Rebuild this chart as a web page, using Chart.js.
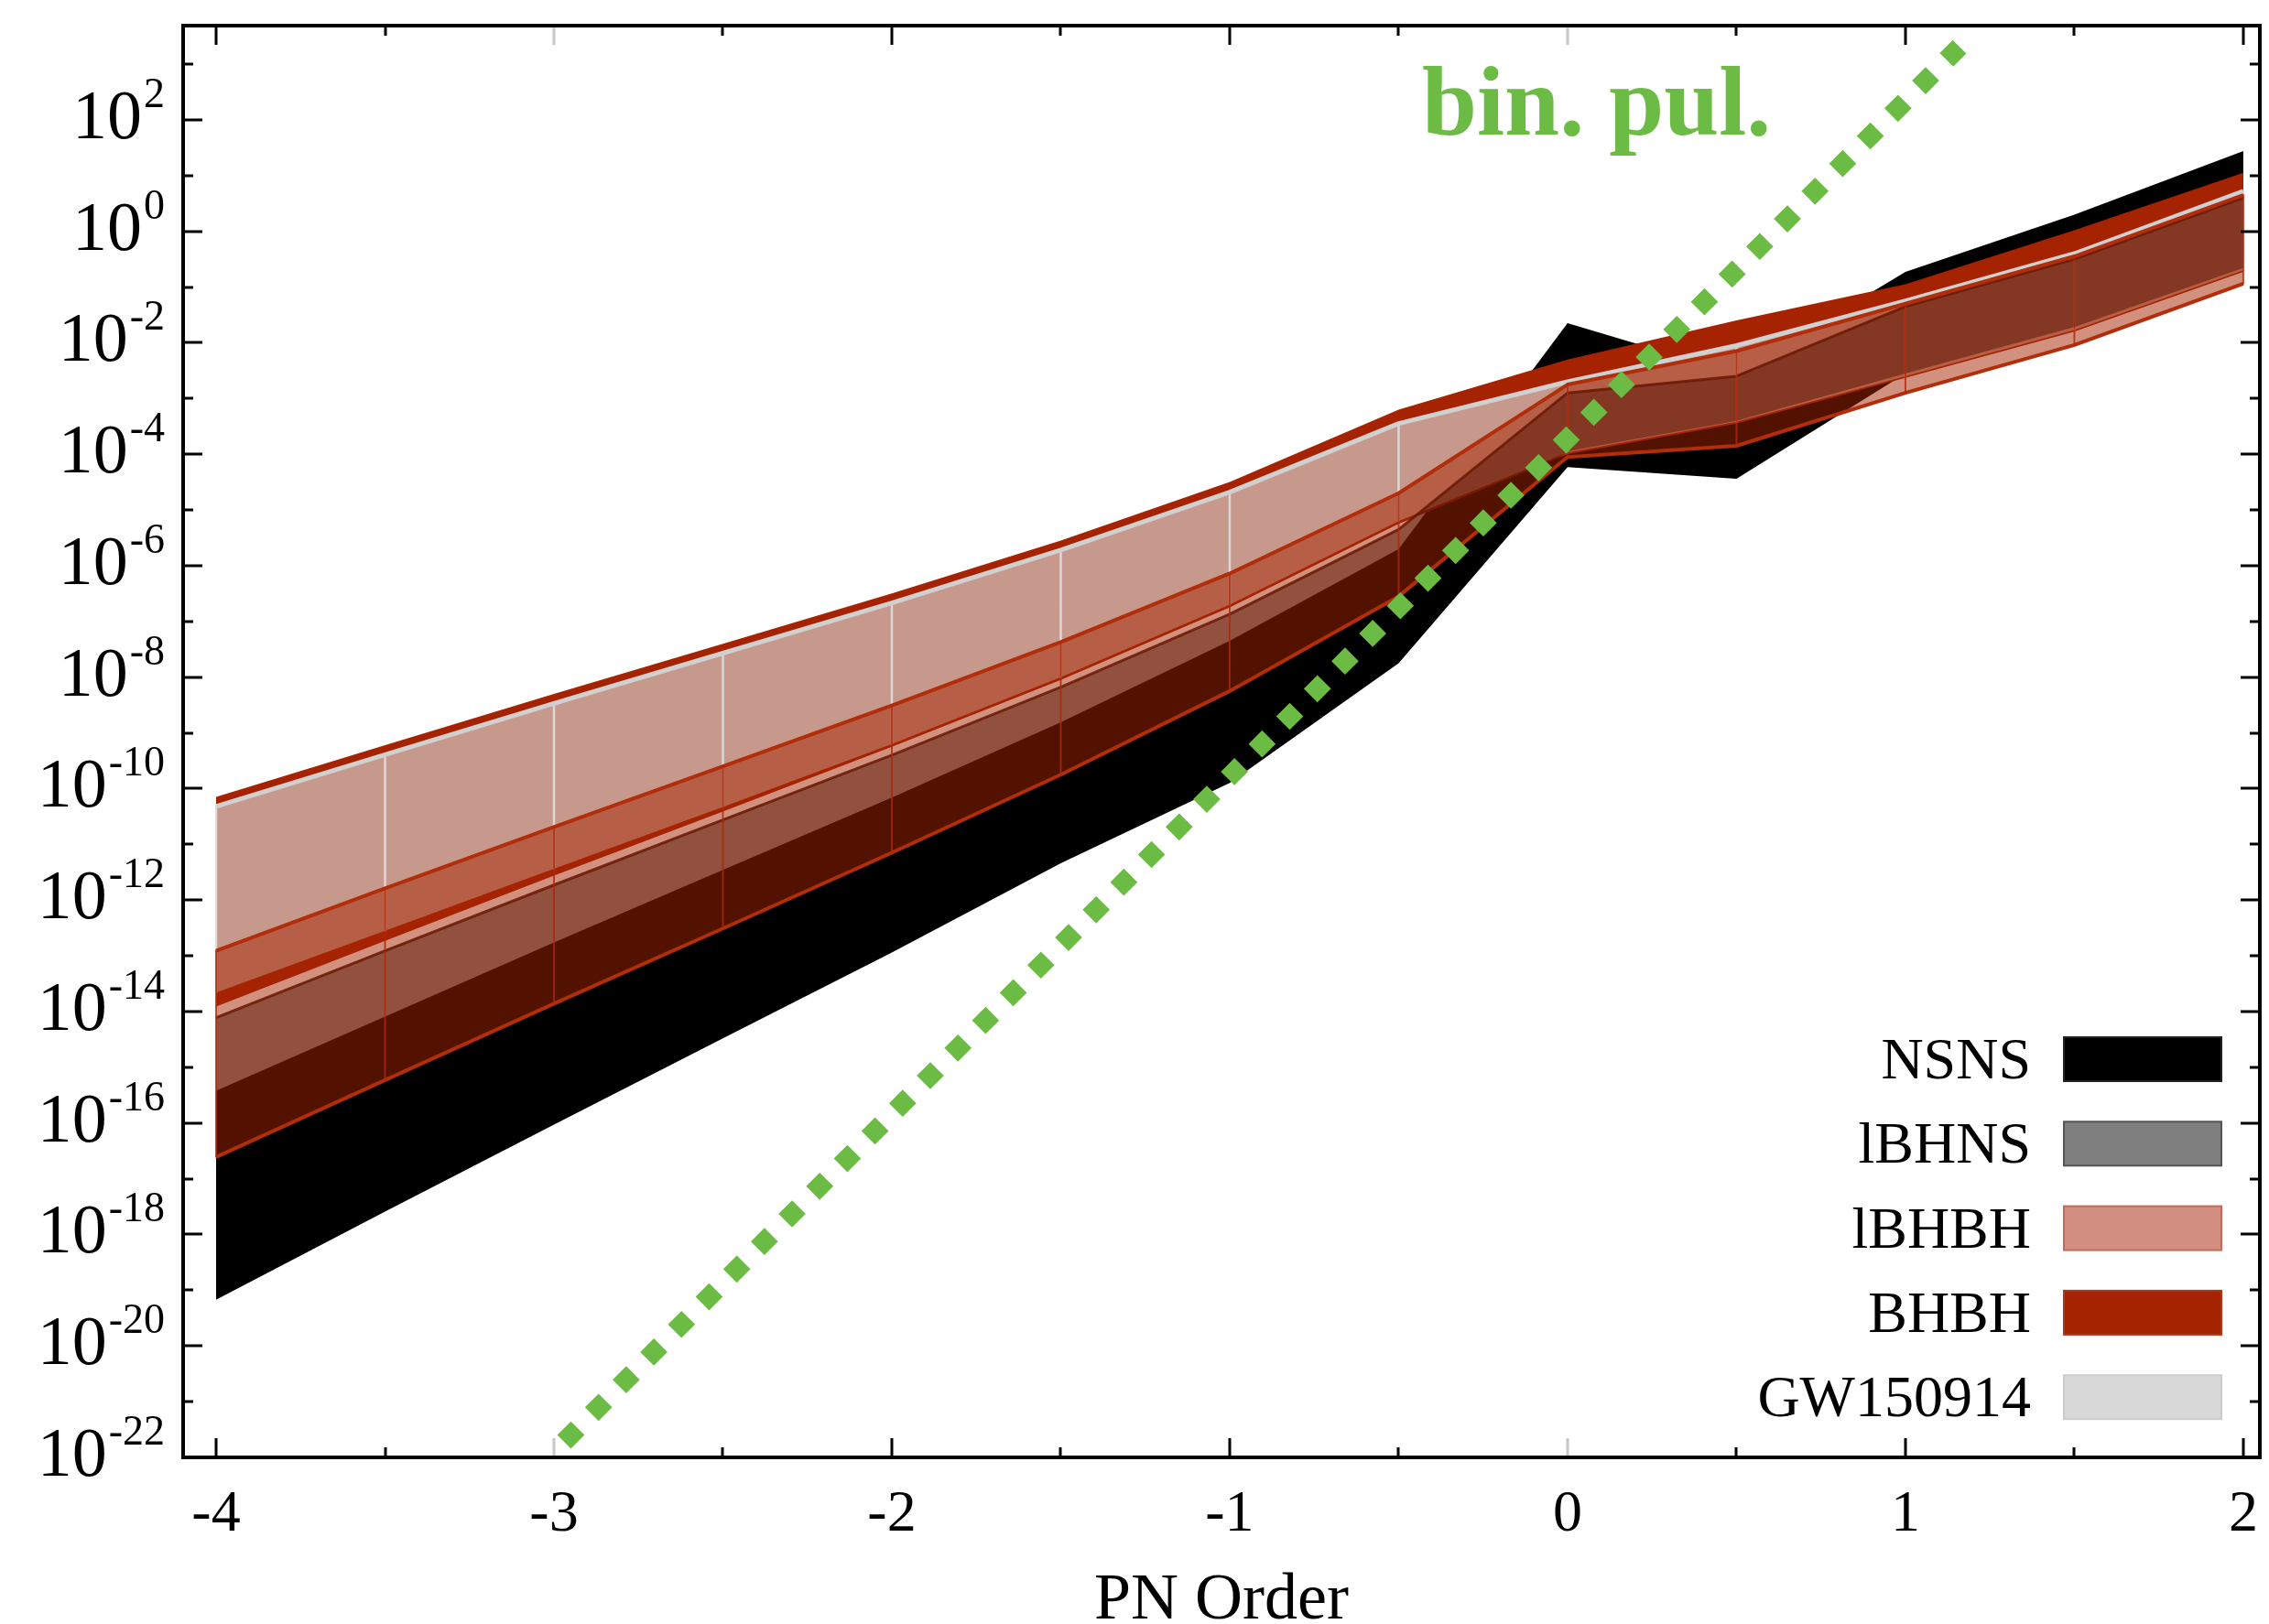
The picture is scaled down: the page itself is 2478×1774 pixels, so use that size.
<!DOCTYPE html>
<html><head><meta charset="utf-8">
<script src="https://cdn.jsdelivr.net/npm/chart.js@4.4.1/dist/chart.umd.min.js"></script>
<style>html,body{margin:0;padding:0;background:#fff;}#wrap{width:2478px;height:1774px;position:relative;}</style>
</head><body><div id="wrap"><canvas id="c" width="2478" height="1774"></canvas></div>
<script>
// ---------- data (PN order and log10 of the bounds) ----------
const pnOrders = [-4,-3.5,-3,-2.5,-2,-1.5,-1,-0.5,0,0.5,1,1.5,2];
const bhbhUpperLog   = [-10.15,-9.22,-8.30,-7.40,-6.50,-5.55,-4.50,-3.20,-2.30,-1.60,-0.95,0.02,1.05];
const bhbhLowerLog   = [-13.91,-12.73,-11.56,-10.41,-9.25,-8.05,-6.75,-5.25,-4.00,-3.45,-2.63,-1.80,-0.73];
const gwUpperLog     = [-10.32,-9.39,-8.47,-7.57,-6.67,-5.72,-4.68,-3.45,-2.70,-2.05,-1.25,-0.40,0.72];
const gwLowerLog     = [-13.66,-12.55,-11.44,-10.33,-9.20,-8.00,-6.70,-5.20,-3.97,-3.42,-2.60,-1.77,-0.70];
const lbhbhUpperLog  = [-12.91,-11.79,-10.69,-9.60,-8.51,-7.37,-6.14,-4.70,-2.75,-2.15,-1.30,-0.45,0.65];
const lbhbhLowerLog  = [-16.61,-15.23,-13.86,-12.51,-11.15,-9.75,-8.25,-6.55,-4.05,-3.85,-2.90,-2.04,-0.94];
const lbhnsUpperLog  = [-14.11,-12.91,-11.73,-10.56,-9.40,-8.18,-6.87,-5.35,-2.90,-2.60,-1.35,-0.50,0.60];
const lbhnsLowerLog  = [-15.90,-14.60,-13.30,-12.00,-10.70,-9.30,-7.90,-6.30,-3.95,-3.40,-2.55,-1.72,-0.66];
const nsnsUpperLog   = [-15.42,-14.09,-12.76,-11.46,-10.16,-8.81,-7.35,-5.70,-1.65,-2.55,-0.73,0.30,1.44];
const nsnsLowerLog   = [-19.17,-17.59,-16.03,-14.48,-12.94,-11.34,-9.90,-7.75,-4.23,-4.44,-2.55,-1.70,-0.65];
const binPulX   = [-2.97, 1.16];
const binPulLog = [-21.72, 3.31];
const xTickValues = [-4,-3,-2,-1,0,1,2];
const xTickLabels = ['-4','-3','-2','-1','0','1','2'];
const yTickExponents = [2,0,-2,-4,-6,-8,-10,-12,-14,-16,-18,-20,-22];
const legendLabels = ['NSNS','lBHNS','lBHBH','BHBH','GW150914'];
const legendFill   = ['#000000','#7f7f7f','#d28f81','#a52300','#d8d8d8'];
const legendEdge   = ['#222222','#555555','#c46a58','#b0381a','#cccccc'];

// ---------- helpers ----------
const P = v => Math.pow(10, v);
const pts = (xs, logs) => xs.map((x, i) => ({x, y: P(logs[i])}));
const vpts = (xs, up, lo) => { const o = []; xs.forEach((x, i) => { o.push({x, y: P(up[i])}, {x, y: P(lo[i])}, {x, y: null}); }); return o; };
const datasets = [];
function add(data, opts) {
  datasets.push(Object.assign({data, pointRadius: 0, pointHoverRadius: 0, borderWidth: 1, borderColor: 'rgba(0,0,0,0)', fill: false, tension: 0, spanGaps: false}, opts));
  return datasets.length - 1;
}
function band(label, up, lo, fillColor, fillOrder) {
  const li = add(pts(pnOrders, lo), {label: label + ' lower', order: fillOrder});
  add(pts(pnOrders, up), {label: label, order: fillOrder, fill: {target: li}, backgroundColor: fillColor});
}
// draw order: higher "order" drawn first
band('NSNS', nsnsUpperLog, nsnsLowerLog, '#000000', 50);
band('BHBH', bhbhUpperLog, bhbhLowerLog, '#a52300', 40);
band('GW150914', gwUpperLog, gwLowerLog, 'rgba(216,216,216,0.65)', 30);
add(vpts(pnOrders, gwUpperLog, gwLowerLog), {label: 'GW150914 cells', order: 29, borderColor: 'rgba(222,222,222,0.9)', borderWidth: 2.5});
add(pts(pnOrders, gwUpperLog), {label: 'GW150914 upper edge', order: 28, borderColor: 'rgb(208,208,208)', borderWidth: 5});
band('lBHNS', lbhnsUpperLog, lbhnsLowerLog, 'rgba(0,0,0,0.5)', 20);
add(pts(pnOrders, lbhnsUpperLog), {label: 'lBHNS edge', order: 19, borderColor: 'rgba(45,12,6,0.85)', borderWidth: 3});
band('lBHBH', lbhbhUpperLog, lbhbhLowerLog, 'rgba(165,35,0,0.5)', 10);
add(vpts(pnOrders, lbhbhUpperLog, lbhbhLowerLog), {label: 'lBHBH cells', order: 9, borderColor: 'rgba(175,40,10,0.8)', borderWidth: 2});
add(pts(pnOrders, lbhbhUpperLog), {label: 'lBHBH upper edge', order: 9, borderColor: '#b22d0a', borderWidth: 4});
add(pts(pnOrders, lbhbhLowerLog), {label: 'lBHBH lower edge', order: 9, borderColor: '#b22d0a', borderWidth: 4});
// binary pulsar bound
add(binPulX.map((x, i) => ({x, y: P(binPulLog[i])})), {label: 'bin. pul.', order: 0, borderColor: '#6cbb45', borderWidth: 21, borderDash: [21, 21.7], borderCapStyle: 'butt'});

// ---------- frame, ticks, labels, legend ----------
const SERIF = '"Liberation Serif", "Times New Roman", serif';
const decor = {
  id: 'decor',
  afterDraw(chart) {
    const ctx = chart.ctx, a = chart.chartArea, xs = chart.scales.x, ys = chart.scales.y;
    ctx.save();
    ctx.lineWidth = 3;
    for (let k = -8; k <= 4; k++) {
      const v = k / 2;
      const px = Math.round(xs.getPixelForValue(v));
      const major = (k % 2 === 0);
      const len = major ? 21 : 11;
      ctx.strokeStyle = (major && (v === -3 || v === 0)) ? '#c8c8c8' : '#000';
      ctx.beginPath(); ctx.moveTo(px, a.bottom); ctx.lineTo(px, a.bottom - len);
      ctx.moveTo(px, a.top); ctx.lineTo(px, a.top + len); ctx.stroke();
    }
    ctx.strokeStyle = '#000';
    for (let e = -22; e <= 3; e++) {
      const py = Math.round(ys.getPixelForValue(P(e)));
      const len = (e % 2 === 0) ? 21 : 11;
      ctx.beginPath(); ctx.moveTo(a.left, py); ctx.lineTo(a.left + len, py);
      ctx.moveTo(a.right, py); ctx.lineTo(a.right - len, py); ctx.stroke();
    }
    ctx.lineWidth = 4;
    ctx.strokeRect(a.left, a.top, a.right - a.left, a.bottom - a.top);
    ctx.fillStyle = '#000';
    ctx.font = '64px ' + SERIF;
    ctx.textAlign = 'center'; ctx.textBaseline = 'alphabetic';
    xTickValues.forEach((v, i) => ctx.fillText(xTickLabels[i], xs.getPixelForValue(v), 1672));
    ctx.font = '72px ' + SERIF;
    ctx.fillText('PN Order', (a.left + a.right) / 2, 1768);
    ctx.textAlign = 'right';
    yTickExponents.forEach(e => {
      const py = ys.getPixelForValue(P(e));
      const ex = String(e);
      ctx.font = '46px ' + SERIF;
      const w = ctx.measureText(ex).width;
      ctx.fillText(ex, 180, py - 14);
      ctx.font = '76px ' + SERIF;
      ctx.fillText('10', 178 - w, py + 20);
    });
    legendLabels.forEach((lab, i) => {
      const cy = 1157 + i * 92.3;
      ctx.fillStyle = legendFill[i];
      ctx.fillRect(2254, cy - 24, 172, 48);
      ctx.strokeStyle = legendEdge[i]; ctx.lineWidth = 2;
      ctx.strokeRect(2254, cy - 24, 172, 48);
      ctx.fillStyle = '#000';
      ctx.font = '64px ' + SERIF; ctx.textAlign = 'right';
      ctx.fillText(lab, 2218, cy + 21);
    });
    ctx.fillStyle = '#6cbb45';
    ctx.font = 'bold 108px ' + SERIF; ctx.textAlign = 'left';
    ctx.fillText('bin. pul.', 1553, 147);
    ctx.restore();
  }
};

new Chart(document.getElementById('c'), {
  type: 'line',
  data: {datasets},
  options: {
    responsive: false, animation: false, devicePixelRatio: 1,
    layout: {padding: {left: 200, top: 28, right: 10, bottom: 182}},
    scales: {
      x: {type: 'linear', min: -4.0976, max: 2.049, display: false},
      y: {type: 'logarithmic', min: 1e-22, max: Math.pow(10, 3.69), display: false}
    },
    plugins: {legend: {display: false}, tooltip: {enabled: false}},
    elements: {line: {borderJoinStyle: 'round'}}
  },
  plugins: [decor]
});
</script></body></html>
